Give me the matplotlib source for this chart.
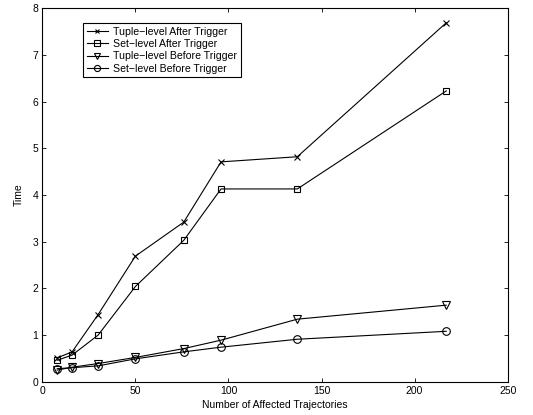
import matplotlib
matplotlib.use("Agg")
import matplotlib.pyplot as plt

plt.rcParams['font.family'] = ['Liberation Sans', 'DejaVu Sans']

x = [8, 16, 30, 50, 76, 96, 137, 217]
tuple_after = [0.51, 0.64, 1.44, 2.69, 3.42, 4.71, 4.82, 7.69]
set_after = [0.46, 0.57, 1.00, 2.04, 3.03, 4.13, 4.13, 6.23]
tuple_before = [0.25, 0.31, 0.39, 0.52, 0.71, 0.89, 1.34, 1.64]
set_before = [0.28, 0.30, 0.34, 0.49, 0.64, 0.74, 0.91, 1.08]
labels = ["Tuple\u2212level After Trigger", "Set\u2212level After Trigger",
          "Tuple\u2212level Before Trigger", "Set\u2212level Before Trigger"]
xticks = [0, 50, 100, 150, 200, 250]
yticks = [0, 1, 2, 3, 4, 5, 6, 7, 8]

fig = plt.figure(figsize=(5.33, 4.15), dpi=100)
ax = fig.add_axes([0.0794, 0.0802, 0.8731, 0.8998])

lw = 0.8
ax.plot(x, tuple_after, color='black', lw=lw, marker='x', ms=4, mew=0.8, label=labels[0])
ax.plot(x, set_after, color='black', lw=lw, marker='s', ms=5, mfc='none', mew=0.8, label=labels[1])
ax.plot(x, tuple_before, color='black', lw=lw, marker='v', ms=6, mfc='none', mew=0.8, label=labels[2])
ax.plot(x, set_before, color='black', lw=lw, marker='o', ms=5.5, mfc='none', mew=0.8, label=labels[3])

ax.set_xlim(0, 250)
ax.set_ylim(0, 8)
ax.set_xticks(xticks)
ax.set_yticks(yticks)
ax.tick_params(direction='in', top=True, right=True, labelsize=7.5, length=3, width=0.6, pad=3)
for s in ax.spines.values():
    s.set_linewidth(0.8)
ax.set_xlabel("Number of Affected Trajectories", fontsize=7.5, labelpad=3)
ax.set_ylabel("Time", fontsize=7.5, labelpad=6)

leg = ax.legend(loc='upper left', bbox_to_anchor=(0.0875, 0.9606), borderaxespad=0,
                fontsize=7.6, fancybox=False, framealpha=1, edgecolor='black',
                handlelength=2.0, handletextpad=0.5, labelspacing=0.22, borderpad=0.35,
                markerscale=0.8)
leg.get_frame().set_linewidth(0.8)

fig.savefig("out.png", dpi=100)
